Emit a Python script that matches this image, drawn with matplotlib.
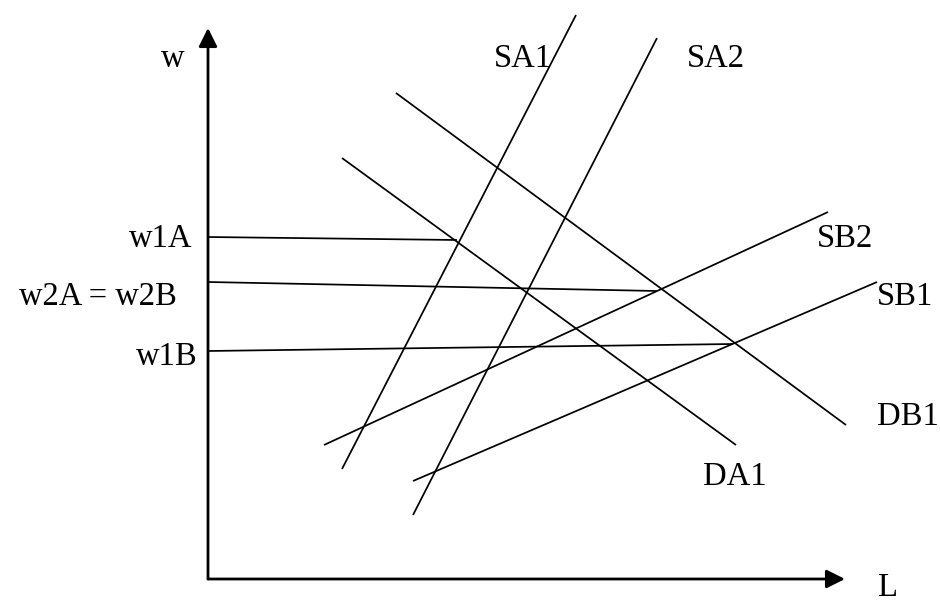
import matplotlib
matplotlib.use("Agg")
import matplotlib.pyplot as plt

# Origin of the diagram is the corner of the axes (L = 0, w = 0)
# Curves: (L_start, w_start, L_end, w_end)
curve_names = ["SA1", "SA2", "DA1", "DB1", "SB2", "SB1"]
curve_L0 = [368, 449, 134, 188, 116, 205]
curve_w0 = [564, 541, 421, 486, 134, 98]
curve_L1 = [134, 205, 528, 638, 620, 669]
curve_w1 = [110, 64, 134, 154, 367, 297]

# Wage levels (nearly horizontal guide lines from the w axis)
wage_labels = ["w1A", "w2A = w2B", "w1B"]
wage_w0 = [342, 297, 228]
wage_L1 = [249, 449, 525]
wage_w1 = [339, 288, 235]

# Curve label positions (left, baseline)
label_L = [286, 479, 495, 669, 609, 669]
label_w = [512, 512, 94, 154, 332, 274]

axis_top = 551
axis_right = 637

fig = plt.figure(figsize=(9.4, 6.04), dpi=100)
ax = fig.add_axes([0, 0, 1, 1])
ax.set_xlim(-208, 732)
ax.set_ylim(-25, 579)
ax.axis("off")

font = dict(family="Liberation Serif", fontsize=23.5, color="black")

# axes with arrows
ax.annotate("", xy=(0, axis_top), xytext=(0, 0),
            arrowprops=dict(arrowstyle="-|>", lw=2.0, color="black",
                            mutation_scale=28, shrinkA=0, shrinkB=0))
ax.annotate("", xy=(axis_right, 0), xytext=(0, 0),
            arrowprops=dict(arrowstyle="-|>", lw=2.0, color="black",
                            mutation_scale=28, shrinkA=0, shrinkB=0))
ax.text(-35, 512, "w", ha="center", va="baseline", **font)
ax.text(670, -17, "L", ha="left", va="baseline", **font)

for L0, w0, L1, w1 in zip(curve_L0, curve_w0, curve_L1, curve_w1):
    ax.plot([L0, L1], [w0, w1], color="black", lw=1.25, solid_capstyle="butt")

for name, x, y in zip(curve_names, label_L, label_w):
    ax.text(x, y, name, ha="left", va="baseline", **font)

for w0, L1, w1 in zip(wage_w0, wage_L1, wage_w1):
    ax.plot([0, L1], [w0, w1], color="black", lw=1.25, solid_capstyle="butt")

ax.text(-16, 332, wage_labels[0], ha="right", va="baseline", **font)
ax.text(-110.5, 274, wage_labels[1], ha="center", va="baseline", **font)
ax.text(-10, 214, wage_labels[2], ha="right", va="baseline", **font)

fig.savefig("out.png", dpi=100)
